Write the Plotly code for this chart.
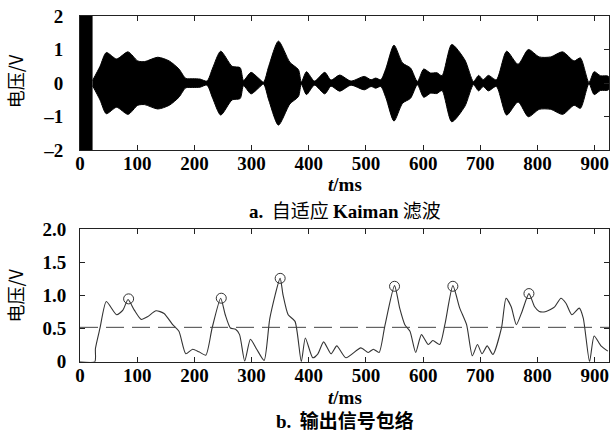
import plotly.graph_objects as go

# ---- data: top panel (adaptive Kalman filtered signal, envelope amplitude) ----
top_t = [22, 35, 46, 64, 84, 101, 113, 136, 156, 173, 185, 197, 210, 222, 232, 246, 266, 280, 286, 299,
         312, 321, 330, 347, 367, 382, 387, 396, 410, 428, 439, 454, 474, 497, 509, 517, 526, 535, 549,
         564, 578, 590, 601, 613, 624, 633, 650, 673, 688, 697, 705, 714, 728, 746, 766, 784, 803, 823,
         844, 864, 875, 890, 899, 910, 924]
top_amp = [0.08, 0.5, 0.91, 0.72, 0.93, 0.66, 0.64, 0.77, 0.66, 0.42, 0.14, 0.13, 0.12, 0.06, 0.45, 0.95,
           0.50, 0.46, 0.08, 0.32, 0.15, 0.03, 0.5, 1.25, 0.62, 0.40, 0.03, 0.34, 0.06, 0.32, 0.09, 0.24,
           0.06, 0.2, 0.1, 0.15, 0.1, 0.44, 1.13, 0.6, 0.45, 0.05, 0.42, 0.3, 0.31, 0.22, 1.15, 0.69, 0.05,
           0.23, 0.1, 0.23, 0.1, 0.95, 0.56, 1.0, 0.78, 0.78, 0.93, 0.66, 0.75, 0.02, 0.34, 0.22, 0.2]
onset_ms = [0, 22]          # saturated start segment
top_yticks = [-2, -1, 0, 1, 2]
top_yticktext = ["\u20132", "\u20131", "0", "1", "2"]

# ---- data: bottom panel (output signal envelope) ----
env_t = [0, 26, 27, 35, 46, 64, 75, 84, 95, 107, 118, 133, 147, 162, 173, 185, 197, 208, 220, 231, 246,
         254, 263, 272, 279, 288, 298, 309, 322, 332, 350, 355, 364, 376, 387, 394, 407, 416, 426, 439,
         449, 465, 491, 504, 513, 523, 533, 550, 559, 568, 577, 587, 597, 609, 617, 629, 638, 652, 664,
         676, 686, 695, 703, 712, 722, 737, 745, 754, 763, 773, 785, 795, 803, 815, 830, 841, 850, 860,
         873, 880, 891, 899, 911, 923]
env_v = [0, 0, 0.2, 0.51, 0.91, 0.71, 0.78, 0.94, 0.78, 0.64, 0.68, 0.77, 0.73, 0.56, 0.46, 0.12, 0.19,
         0.15, 0.10, 0.51, 0.96, 0.71, 0.51, 0.49, 0.41, 0.01, 0.34, 0.19, 0.02, 0.66, 1.26, 1.01, 0.71,
         0.61, 0.0, 0.36, 0.06, 0.12, 0.30, 0.12, 0.24, 0.06, 0.21, 0.14, 0.19, 0.14, 0.54, 1.15, 0.81,
         0.56, 0.46, 0.14, 0.41, 0.26, 0.32, 0.26, 0.56, 1.15, 0.81, 0.56, 0.09, 0.26, 0.12, 0.24, 0.11,
         0.51, 0.96, 0.83, 0.56, 0.76, 1.03, 0.83, 0.76, 0.76, 0.83, 0.96, 0.88, 0.71, 0.81, 0.66, 0.0,
         0.39, 0.24, 0.16]
peak_t = [85, 247, 350, 550, 652, 785]
peak_v = [0.95, 0.96, 1.26, 1.14, 1.14, 1.03]
threshold = 0.52
x_range = [0, 925]
xticks = [0, 100, 200, 300, 400, 500, 600, 700, 800, 900]
bot_yticks = [0, 0.5, 1.0, 1.5, 2.0]
bot_yticktext = ["0", "0.5", "1.0", "1.5", "2.0"]

SERIF = "Liberation Serif"
CJK = "Noto Sans CJK SC"


def py(px):
    """pixel row (from top) -> paper fraction, compensating the observed render box"""
    return 1 - (px - 8) / 420


fig = go.Figure()

# top: filled symmetric envelope
poly_x = top_t + top_t[::-1]
poly_y = top_amp + [-a for a in top_amp[::-1]]
fig.add_trace(go.Scatter(x=poly_x, y=poly_y, mode="lines", fill="toself", fillcolor="black",
                         line=dict(color="black", width=1, shape="spline", smoothing=0.7),
                         xaxis="x", yaxis="y", showlegend=False, hoverinfo="skip"))
fig.add_shape(type="rect", xref="x", yref="y", x0=onset_ms[0], x1=onset_ms[1], y0=-2, y1=2,
              fillcolor="black", line=dict(width=0), layer="above")

# bottom: envelope line, threshold, peaks
fig.add_trace(go.Scatter(x=env_t, y=env_v, mode="lines",
                         line=dict(color="#333333", width=1.1, shape="spline", smoothing=0.6),
                         xaxis="x2", yaxis="y2", showlegend=False))
fig.add_trace(go.Scatter(x=x_range, y=[threshold, threshold], mode="lines",
                         line=dict(color="#444444", width=1, dash="18px,8px"),
                         xaxis="x2", yaxis="y2", showlegend=False))
fig.add_trace(go.Scatter(x=peak_t, y=peak_v, mode="markers",
                         marker=dict(symbol="circle-open", size=10, color="#333333", line=dict(width=1)),
                         xaxis="x2", yaxis="y2", showlegend=False))

axis_common = dict(showline=True, linecolor="#222222", linewidth=1, mirror="ticks", ticks="inside",
                   ticklen=5, tickcolor="#222222", showgrid=False, zeroline=False,
                   tickfont=dict(family=SERIF, size=19, color="black", weight="bold"))

fig.update_layout(
    width=613, height=436,
    margin=dict(l=80, r=4, t=0, b=0),
    paper_bgcolor="white", plot_bgcolor="white",
    xaxis=dict(domain=[0, 1], anchor="y", range=x_range, tickvals=xticks, ticklabelstandoff=-4,
               **axis_common),
    yaxis=dict(domain=[py(150), py(14)], anchor="x", range=[-2, 2], tickvals=top_yticks,
               ticktext=top_yticktext, ticklabelstandoff=12, **axis_common),
    xaxis2=dict(domain=[0, 1], anchor="y2", range=x_range, tickvals=xticks, ticklabelstandoff=-4,
                **axis_common),
    yaxis2=dict(domain=[py(364), py(230)], anchor="x2", range=[0, 2], tickvals=bot_yticks,
                ticktext=bot_yticktext, ticklabelstandoff=9, **axis_common),
)

ann = [
    dict(text="<i>t</i>/ms", x=0.5, y=py(185), font=dict(family=SERIF, size=19, color="black",
                                                          weight="bold")),
    dict(text="<i>t</i>/ms", x=0.5, y=py(400), font=dict(family=SERIF, size=19, color="black",
                                                          weight="bold")),
    dict(text="<span style='font-family:Liberation Serif'><b>a.</b></span>  自适应 "
              "<span style='font-family:Liberation Serif'><b>Kaiman</b></span> 滤波",
         x=0.5, y=py(210), font=dict(family=CJK, size=19, color="black")),
    dict(text="<span style='font-family:Liberation Serif'><b>b.</b></span>  <b>输出信号包络</b>",
         x=0.5, y=py(422), font=dict(family=CJK, size=19, color="black")),
    dict(text="电压/V", x=(15 - 80) / 529, y=py(80), textangle=-90,
         font=dict(family=CJK, size=18, color="black")),
    dict(text="电压/V", x=(15 - 80) / 529, y=py(297), textangle=-90,
         font=dict(family=CJK, size=18, color="black")),
]
for a in ann:
    fig.add_annotation(xref="paper", yref="paper", showarrow=False, xanchor="center", yanchor="middle", **a)

fig.write_html("out.html", post_script="document.body.style.margin='0';",
               config={"displayModeBar": False})
